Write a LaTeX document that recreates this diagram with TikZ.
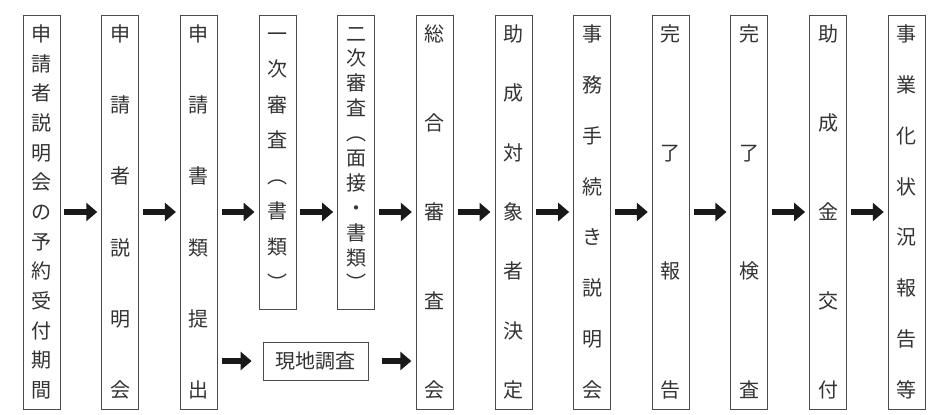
\documentclass[tikz,border=0pt]{standalone}
\usepackage{fontspec}
\newfontfamily\jp{Noto Sans CJK JP}
\usetikzlibrary{arrows.meta}
\ExplSyntaxOn
\NewDocumentCommand\vtext{O{0pt}mm}{
  \vbox to #2 {
    \offinterlineskip
    \bool_set_false:N \l_tmpa_bool
    \tl_map_inline:nn {#3} {
      \bool_if:NT \l_tmpa_bool {\vfill}
      \hbox to 22pt {\hss\raisebox{0pt}[17pt][2pt]{##1}\hss}
      \bool_set_true:N \l_tmpa_bool
    }
    \kern #1
  }
}
\ExplSyntaxOff
\begin{document}
\begin{tikzpicture}[x=1pt,y=-1pt,
  box/.style={draw=black!70, line width=0.8pt, minimum width=37pt, inner sep=0pt,
    font=\jp\fontsize{20pt}{20pt}\selectfont, text=black!80},
  tall/.style={box, minimum height=394pt},
  short/.style={box, minimum height=294pt},
  arr/.style={line width=6.5pt, -{Triangle[length=11pt,width=18pt]}, black!90}]
\useasboundingbox[fill=white] (0,0) rectangle (940,415);
\node[tall]  (b1)  at (41.5,212)   {\vtext{375pt}{申請者説明会の予約受付期間}};
\node[tall]  (b2)  at (120.15,212) {\vtext{375pt}{申請者説明会}};
\node[tall]  (b3)  at (198.8,212)  {\vtext{375pt}{申請書類提出}};
\node[short] (b4)  at (277.45,162) {\vtext[8pt]{276pt}{一次審査︵書類︶}};
\node[short] (b5)  at (356.1,162)  {\vtext[8pt]{276pt}{二次審査︵面接・書類︶}};
\node[tall]  (b6)  at (434.75,212) {\vtext{375pt}{総合審査会}};
\node[tall]  (b7)  at (513.4,212)  {\vtext{375pt}{助成対象者決定}};
\node[tall]  (b8)  at (592.05,212) {\vtext{375pt}{事務手続き説明会}};
\node[tall]  (b9)  at (670.7,212)  {\vtext{375pt}{完了報告}};
\node[tall]  (b10) at (749.35,212) {\vtext{375pt}{完了検査}};
\node[tall]  (b11) at (828,212)    {\vtext{375pt}{助成金交付}};
\node[tall]  (b12) at (906.65,212) {\vtext{375pt}{事業化状況報告等}};
\node[box, minimum width=105pt, minimum height=38pt] (g) at (315.5,361) {現地調査};
\begin{scope}[shorten <=4pt, shorten >=4pt]
\draw[arr] (b1.east) -- (b2.west);
\draw[arr] (b2.east) -- (b3.west);
\draw[arr] (b3.east) -- (b3.east -| b4.west);
\draw[arr] (b4.east |- b3.east) -- (b5.west |- b3.east);
\draw[arr] (b5.east |- b3.east) -- (b6.west);
\draw[arr] (b6.east) -- (b7.west);
\draw[arr] (b7.east) -- (b8.west);
\draw[arr] (b8.east) -- (b9.west);
\draw[arr] (b9.east) -- (b10.west);
\draw[arr] (b10.east) -- (b11.west);
\draw[arr] (b11.east) -- (b12.west);
\end{scope}
\draw[arr, shorten <=4.7pt, shorten >=11pt] (b3.east |- g.west) -- (g.west);
\draw[arr, shorten <=13.7pt, shorten >=4.5pt] (g.east) -- (b6.west |- g.east);
\end{tikzpicture}
\end{document}
